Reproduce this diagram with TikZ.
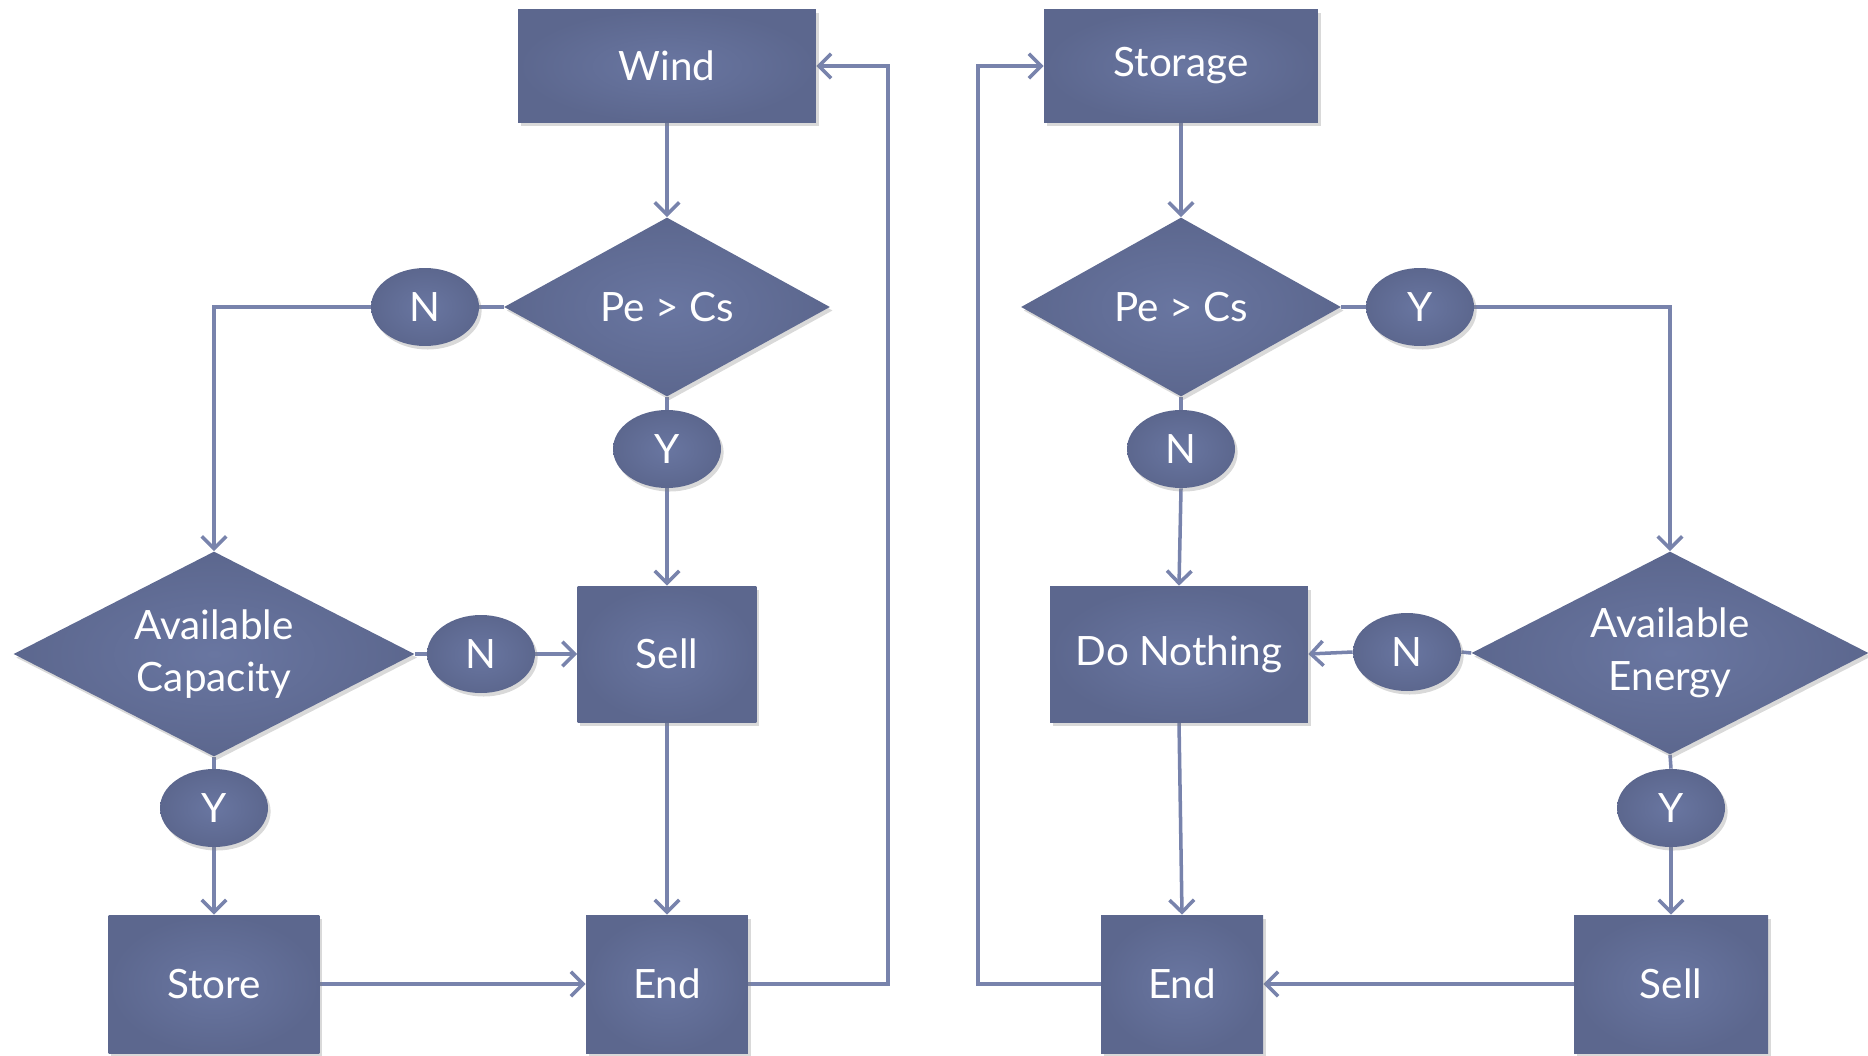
\documentclass[tikz,border=0pt]{standalone}
\usepackage{fontspec}
\setmainfont{Lato}
\usetikzlibrary{shapes.geometric,arrows.meta,shadows,backgrounds}

\definecolor{boxfill}{HTML}{6976A1}
\definecolor{boxedge}{HTML}{5C678E}
\definecolor{linkcol}{HTML}{7883AC}

\tikzset{
	shape base/.style={shading=radial, inner color=boxfill, outer color=boxedge,
		text=white, font=\fontsize{23}{30}\selectfont, align=center, inner sep=0pt,
		drop shadow={shadow xshift=1.5pt, shadow yshift=-2pt, opacity=0.3}},
	box/.style={shape base, rectangle},
	decision/.style={shape base, diamond, aspect=1.8},
	yesno/.style={shape base, ellipse, minimum width=2.16cm, minimum height=1.56cm},
	conn/.style={draw=linkcol, line width=2pt},
	arr/.style={conn, -{Straight Barb[length=7pt,width=14pt,line width=2pt]}}
}

\begin{document}
\begin{tikzpicture}[x=0.02cm, y=-0.02cm]
	\useasboundingbox (0,0) rectangle (1868,1055);

	% wind side
	\node[box, minimum width=5.96cm, minimum height=2.26cm] (wind) at (667,66) {Wind};
	\node[decision, minimum width=6.52cm, minimum height=3.58cm] (pe1) at (667,307) {Pe > Cs};
	\node[yesno] (n1) at (425,307) {N};
	\node[yesno] (y1) at (667,449) {Y};
	\node[decision, minimum width=8.02cm, minimum height=4.1cm] (cap) at (214,654) {Available\\Capacity};
	\node[yesno] (n2) at (481,654) {N};
	\node[box, minimum width=3.58cm, minimum height=2.72cm] (sell1) at (667,654) {Sell};
	\node[yesno] (y2) at (214,808) {Y};
	\node[box, minimum width=4.22cm, minimum height=2.76cm] (store) at (214,984) {Store};
	\node[box, minimum width=3.24cm, minimum height=2.76cm] (end1) at (667,984) {End};
	\coordinate (loopL) at (888,66);

	% storage side
	\node[box, minimum width=5.48cm, minimum height=2.26cm] (stor) at (1181,66) {Storage};
	\node[decision, minimum width=6.4cm, minimum height=3.58cm] (pe2) at (1181,307) {Pe > Cs};
	\node[yesno] (y3) at (1420,307) {Y};
	\node[yesno] (n3) at (1181,449) {N};
	\node[box, minimum width=5.16cm, minimum height=2.72cm] (nothing) at (1179,654) {Do Nothing};
	\node[decision, minimum width=7.94cm, minimum height=4.06cm] (energy) at (1670,653) {Available\\Energy};
	\node[yesno] (n4) at (1407,652) {N};
	\node[yesno] (y4) at (1671,808) {Y};
	\node[box, minimum width=3.88cm, minimum height=2.76cm] (sell2) at (1671,984) {Sell};
	\node[box, minimum width=3.24cm, minimum height=2.76cm] (end2) at (1182,984) {End};
	\coordinate (loopR) at (978,66);

	\begin{scope}[on background layer]
		\draw[arr] (wind.south) -- (pe1.north);
		\draw[conn] (pe1.west) -- (n1.east);
		\draw[arr] (n1.west) -| (cap.north);
		\draw[conn] (pe1.south) -- (y1.north);
		\draw[arr] (y1.south) -- (sell1.north);
		\draw[conn] (cap.east) -- (n2.west);
		\draw[arr] (n2.east) -- (sell1.west);
		\draw[conn] (cap.south) -- (y2.north);
		\draw[arr] (y2.south) -- (store.north);
		\draw[arr] (store.east) -- (end1.west);
		\draw[arr] (sell1.south) -- (end1.north);
		\draw[arr] (end1.east) -| (loopL) -- (wind.east);

		\draw[arr] (stor.south) -- (pe2.north);
		\draw[conn] (pe2.east) -- (y3.west);
		\draw[arr] (y3.east) -| (energy.north);
		\draw[conn] (pe2.south) -- (n3.north);
		\draw[arr] (n3.south) -- (nothing.north);
		\draw[conn] (energy.west) -- (n4.east);
		\draw[arr] (n4.west) -- (nothing.east);
		\draw[conn] (energy.south) -- (y4.north);
		\draw[arr] (y4.south) -- (sell2.north);
		\draw[arr] (sell2.west) -- (end2.east);
		\draw[arr] (nothing.south) -- (end2.north);
		\draw[arr] (end2.west) -| (loopR) -- (stor.west);
	\end{scope}
\end{tikzpicture}
\end{document}
